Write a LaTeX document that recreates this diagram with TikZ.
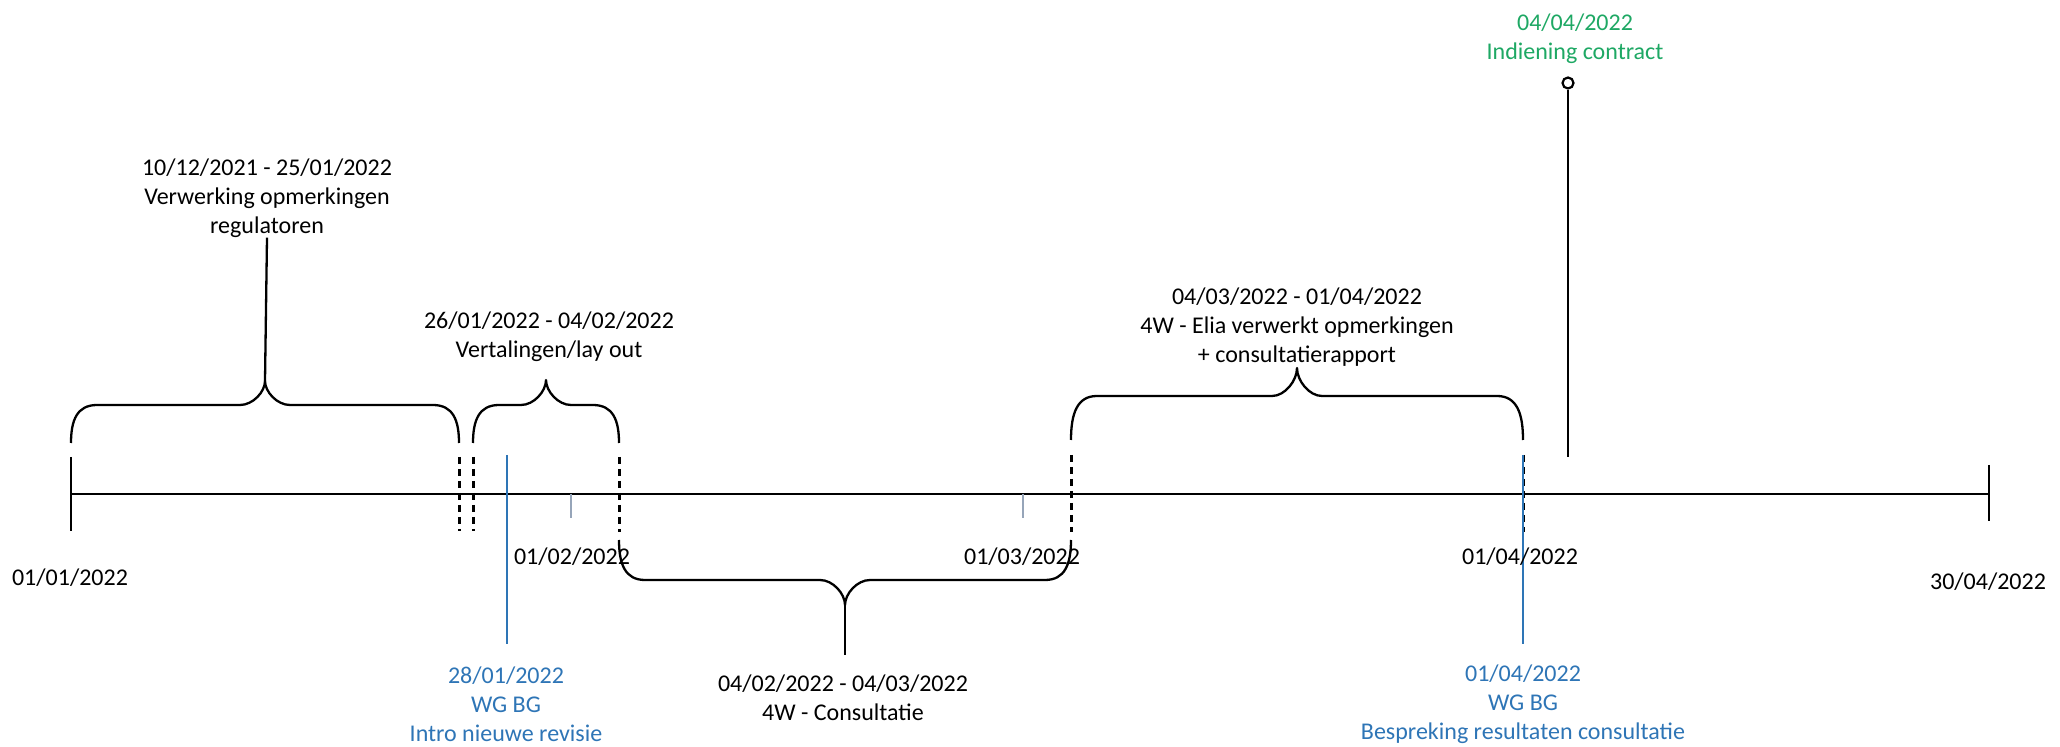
\documentclass[tikz,border=0pt]{standalone}
\usepackage{fontspec}
\setmainfont{Carlito}
\definecolor{wgblue}{RGB}{46,117,182}
\definecolor{okgreen}{RGB}{30,168,100}
\definecolor{tickgrey}{RGB}{150,165,185}
\newcommand{\tlbrace}[6]{%
 \draw[brace] (#1,#3) .. controls (#1,{#4+0.4*(#3-#4)}) and ({#1+6},#4) .. ({#1+26},#4)
 -- ({#5-25},#4) .. controls ({#5-12},#4) and (#5,{#6+0.45*(#4-#6)}) .. (#5,#6)
 .. controls (#5,{#6+0.45*(#4-#6)}) and ({#5+12},#4) .. ({#5+25},#4)
 -- ({#2-26},#4) .. controls ({#2-6},#4) and (#2,{#4+0.4*(#3-#4)}) .. (#2,#3);}
\begin{document}
\begin{tikzpicture}[x=0.5pt,y=-0.5pt,
 lbl/.style={font=\fontsize{12}{14.4}\selectfont, align=center, inner sep=0pt},
 brace/.style={line width=1.15pt, line join=round},
 axisline/.style={line width=1.45pt},
 endtick/.style={line width=1.4pt},
 dashtick/.style={line width=1.5pt, dash pattern=on 3.5pt off 2.5pt},
 minortick/.style={line width=0.9pt, draw=tickgrey},
 wg/.style={line width=1.2pt, draw=wgblue}]
\useasboundingbox (0,0) rectangle (2060,747);
% axis
\coordinate (ax0) at (71,494);
\coordinate (ax1) at (1989,494);
\draw[axisline] (ax0) -- (ax1);
\draw[endtick] (71,457) -- (71,531);
\draw[endtick] (1989,465) -- (1989,521);
% dashed period limits
\draw[dashtick] (459,457) -- (459,531);
\draw[dashtick] (473,457) -- (473,531);
\draw[dashtick] (619,457) -- (619,532);
\draw[dashtick] (1071,455) -- (1071,532);
\draw[dashtick] (1523,455) -- (1523,532);
% month ticks
\draw[minortick] (571,494) -- (571,518);
\draw[minortick] (1023,494) -- (1023,518);
% WG BG lines
\draw[wg] (507,455) -- (507,644);
\draw[wg] (1523,455) -- (1523,644);
% date labels
\node[lbl] (d1) at (70,578) {01/01/2022};
\node[lbl] (d2) at (572,557) {01/02/2022};
\node[lbl] (d3) at (1022,557) {01/03/2022};
\node[lbl] (d4) at (1520,557) {01/04/2022};
\node[lbl] (d5) at (1988,582) {30/04/2022};
% braces
\tlbrace{71}{459}{443}{405}{265}{381}
\tlbrace{473}{619}{443}{405}{546}{380}
\tlbrace{1071}{1523}{440}{396}{1297}{368}
\tlbrace{619}{1071}{540}{580}{845}{605}
% brace labels
\node[lbl] (t1) at (267,198) {10/12/2021 - 25/01/2022\\Verwerking opmerkingen\\regulatoren};
\node[lbl] (t2) at (549,337) {26/01/2022 - 04/02/2022\\Vertalingen/lay out};
\node[lbl] (t4) at (1297,327) {04/03/2022 - 01/04/2022\\4W - Elia verwerkt opmerkingen\\+ consultatierapport};
\node[lbl] (t3) at (843,698) {04/02/2022 - 04/03/2022\\4W - Consultatie};
\coordinate (tip1) at (265,381);
\coordinate (tip3) at (845,605);
\coordinate (s3) at (845,655);
\draw[brace] (tip1) -- (t1.south);
\draw[brace] (tip3) -- (s3);
% milestone
\node[lbl, text=okgreen] (g) at (1575,39) {04/04/2022\\Indiening contract};
\node[circle, draw, fill=white, line width=1.1pt, minimum size=5.5pt, inner sep=0pt] (pin) at (1568,83) {};
\coordinate (pinfoot) at (1568,457);
\draw[brace] (pin) -- (pinfoot);
% WG BG labels
\node[lbl, text=wgblue] (b1) at (506,704) {28/01/2022\\WG BG\\Intro nieuwe revisie};
\node[lbl, text=wgblue] (b2) at (1523,704) {01/04/2022\\WG BG\\Bespreking resultaten consultatie};
\end{tikzpicture}
\end{document}
